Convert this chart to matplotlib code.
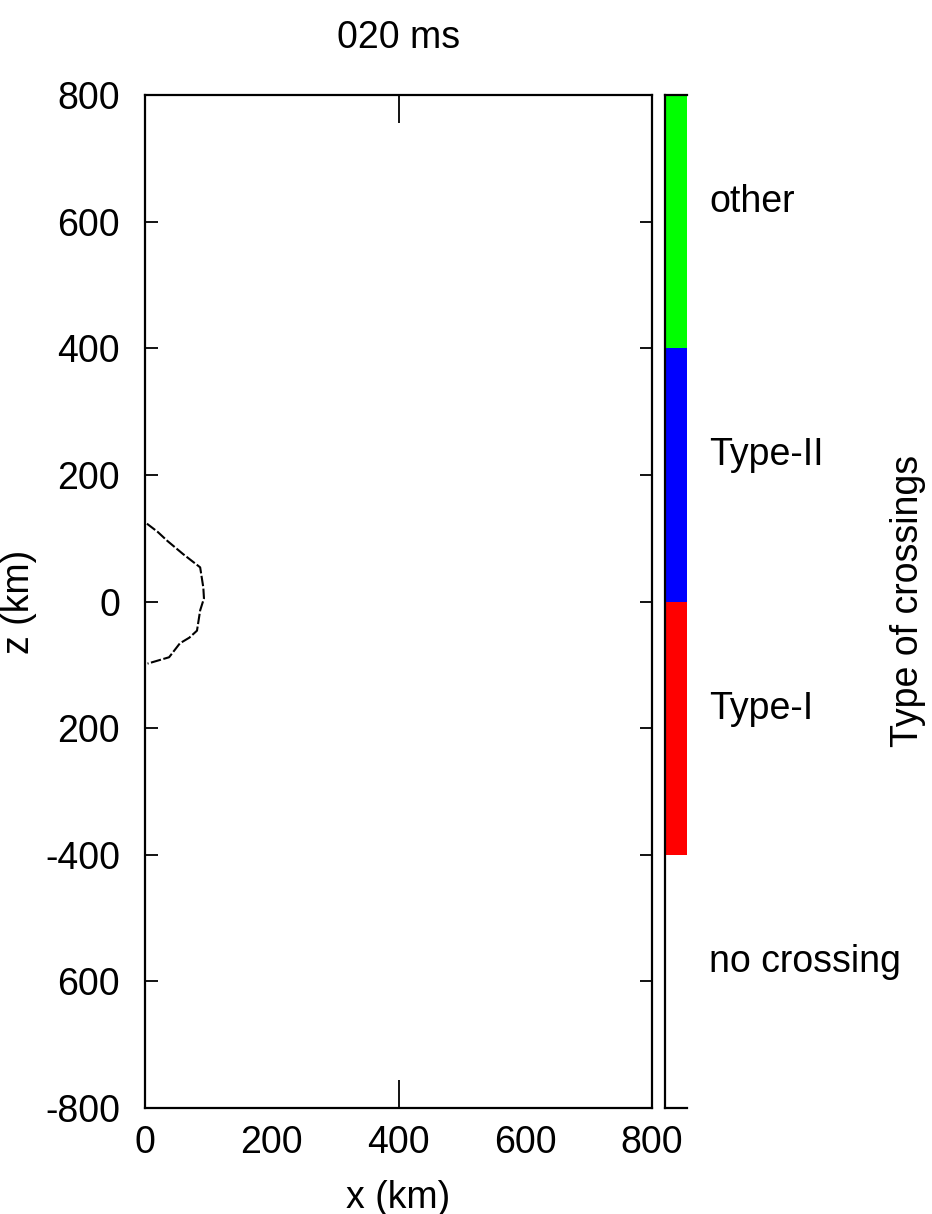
import numpy as np
import matplotlib
matplotlib.use("Agg")
import matplotlib.pyplot as plt
from matplotlib.colors import ListedColormap, BoundaryNorm

plt.rcParams["font.family"] = ["Liberation Sans", "DejaVu Sans"]

# crossing-type front (x, z in km)
front_x = [3, 20, 35, 60, 87, 92, 93, 87, 82, 70, 55, 38, 11, 4]
front_z = [123, 110, 96, 75, 54, 22, 5, -14, -46, -57, -66, -88, -96, -98]

# colour bar categories, bottom to top
categories = ["no crossing", "Type-I", "Type-II", "other"]
cat_colors = ["#ffffff", "#ff0000", "#0000ff", "#00ff00"]
cat_bounds = [-800, -400, 0, 400, 800]

yticks = [800, 600, 400, 200, 0, -200, -400, -600, -800]
ytick_labels = ["800", "600", "400", "200", "0", "200", "-400", "600", "-800"]
xticks_major = [0, 400, 800]
xticks_minor = [200, 600]

FS = 27

fig = plt.figure(figsize=(9.32, 12.14), dpi=100)
ax = fig.add_axes([0.1556, 0.0873, 0.5440, 0.8344])
cax = fig.add_axes([0.7135, 0.0873, 0.0236, 0.8344])

ax.plot(front_x, front_z, color="black", lw=1.5, ls=(0, (5, 1.2)))
ax.set_xlim(0, 800)
ax.set_ylim(-800, 800)

ax.set_xticks(xticks_major)
ax.set_xticks(xticks_minor, minor=True)
ax.set_xticklabels([str(v) for v in xticks_major])
ax.set_xticklabels([str(v) for v in xticks_minor], minor=True)
ax.set_yticks(yticks)
ax.set_yticklabels(ytick_labels)
ax.tick_params(axis="x", which="major", direction="in", length=20, width=1.3,
               top=True, bottom=True, labelsize=FS, pad=12)
ax.tick_params(axis="x", which="minor", length=0, labelsize=FS, pad=12)
ax.tick_params(axis="y", direction="in", length=9, width=1.3,
               left=True, right=True, labelsize=FS, pad=18)
for s in ax.spines.values():
    s.set_linewidth(1.6)

ax.set_xlabel("x (km)", fontsize=FS, labelpad=14)
ax.set_ylabel("z (km)", fontsize=FS, labelpad=6)
ax.set_title("020 ms", fontsize=FS, pad=34)

# colour bar
cmap = ListedColormap(cat_colors)
norm = BoundaryNorm(cat_bounds, cmap.N)
centers = [(a + b) / 2 for a, b in zip(cat_bounds[:-1], cat_bounds[1:])]
cax.pcolormesh([0, 1], cat_bounds, np.array(centers).reshape(-1, 1), cmap=cmap, norm=norm)
cax.set_xlim(0, 1)
cax.set_ylim(-800, 800)
cax.set_xticks([])
cax.set_yticks([])
cax.spines["right"].set_visible(False)
for s in ["left", "top", "bottom"]:
    cax.spines[s].set_linewidth(1.6)
for c, name in zip(centers, categories):
    cax.annotate(name, xy=(1, c), xytext=(16, 14), textcoords="offset points",
                 xycoords=("axes fraction", "data"), ha="left", va="center", fontsize=FS)
fig.text(0.974, 0.505, "Type of crossings", rotation=90, ha="center", va="center", fontsize=FS)

fig.savefig("out.png", dpi=100, facecolor="white")
